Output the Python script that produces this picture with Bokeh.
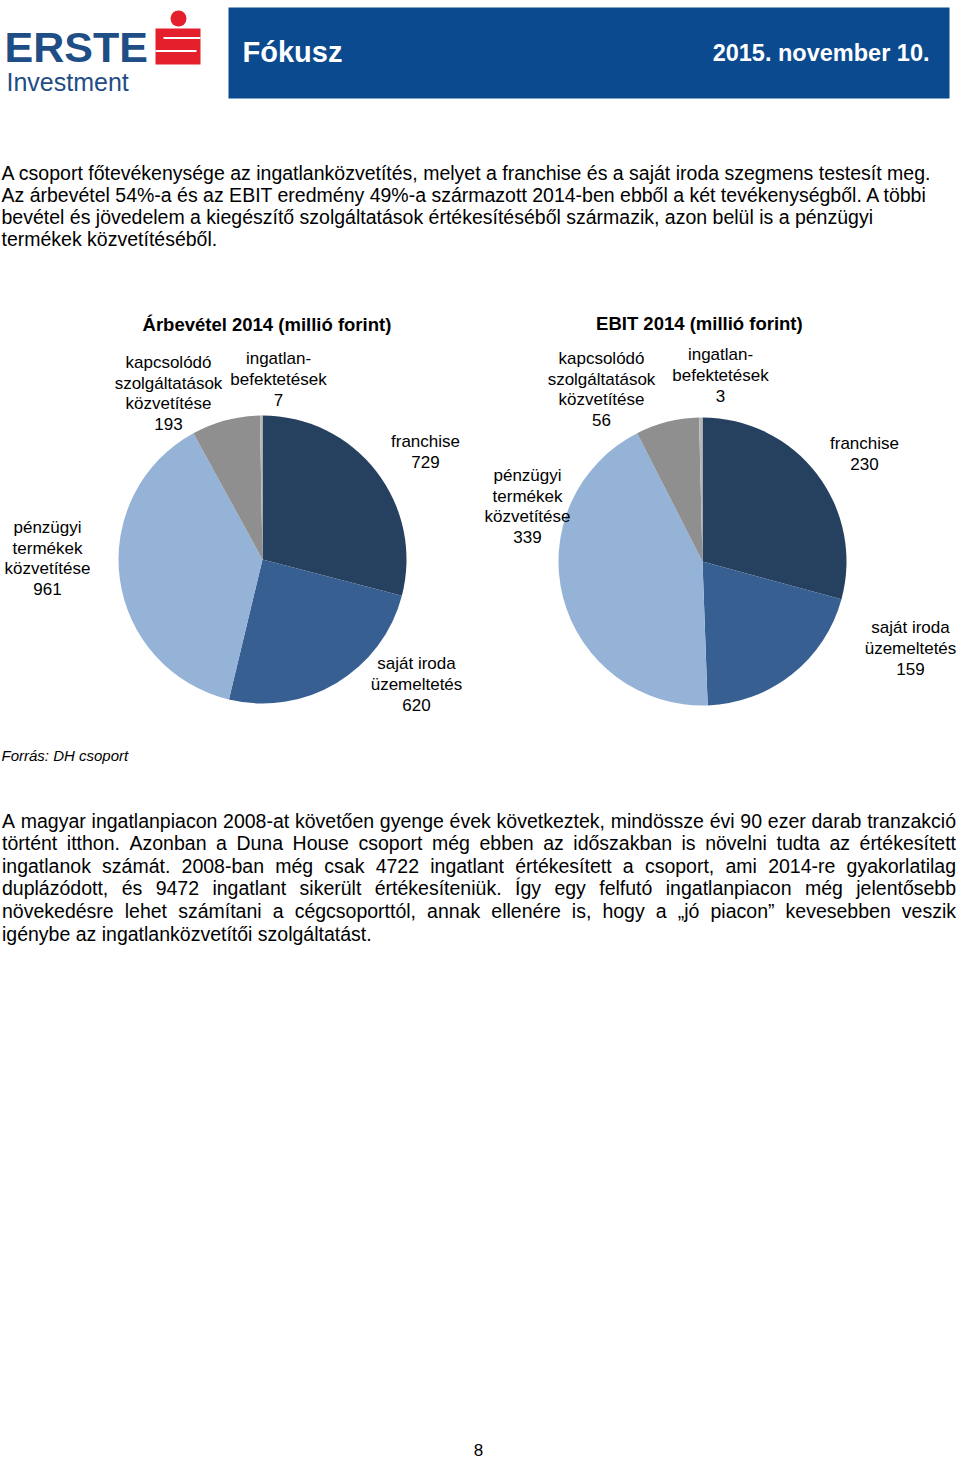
import math
from bokeh.plotting import figure
from bokeh.models import ColumnDataSource, Range1d
from bokeh.core.properties import value
from bokeh.embed import file_html
from bokeh.resources import INLINE

# ---------------- data ----------------
categories = ["franchise", "saját iroda üzemeltetés", "pénzügyi termékek közvetítése",
              "kapcsolódó szolgáltatások közvetítése", "ingatlan-befektetések"]
label_lines = [["franchise"], ["saját iroda", "üzemeltetés"],
               ["pénzügyi", "termékek", "közvetítése"],
               ["kapcsolódó", "szolgáltatások", "közvetítése"],
               ["ingatlan-", "befektetések"]]
revenue_2014 = [729, 620, 961, 193, 7]
ebit_2014 = [230, 159, 339, 56, 3]
chart_titles = ["Árbevétel 2014  (millió forint)", "EBIT  2014  (millió forint)"]

para1 = ["A csoport főtevékenysége az ingatlanközvetítés, melyet a franchise és a saját iroda szegmens testesít meg.",
         "Az árbevétel 54%-a és az EBIT eredmény 49%-a származott 2014-ben ebből a két tevékenységből. A többi",
         "bevétel és jövedelem a kiegészítő szolgáltatások értékesítéséből származik, azon belül is a pénzügyi",
         "termékek közvetítéséből."]
para2 = ["A magyar ingatlanpiacon 2008-at követően gyenge évek következtek, mindössze évi 90 ezer darab tranzakció",
         "történt itthon. Azonban a Duna House csoport még ebben az időszakban is növelni tudta az értékesített",
         "ingatlanok számát. 2008-ban még csak 4722 ingatlant értékesített a csoport, ami 2014-re gyakorlatilag",
         "duplázódott, és 9472 ingatlant sikerült értékesíteniük. Így egy felfutó ingatlanpiacon még jelentősebb",
         "növekedésre lehet számítani a cégcsoporttól, annak ellenére is, hogy a „jó piacon” kevesebben veszik",
         "igénybe az ingatlanközvetítői szolgáltatást."]
source_note = "Forrás: DH csoport"
header_title = "Fókusz"
header_date = "2015. november 10."
page_number = "8"

# ---------------- layout / style ----------------
W, H = 960, 1460
FONT = value("Liberation Sans")
slice_colors = ["#26405f", "#375f91", "#95b3d7", "#8f8f8f", "#b8b8b8"]
pie_layout = [
    dict(cx=262, cy=559, r=144, title_x=269, title_y=324,
         labels=[(425, 441), (416, 663), (47, 527), (168, 362), (278, 358)]),
    dict(cx=702, cy=561, r=144, title_x=704, title_y=323,
         labels=[(864, 443), (910, 627), (527, 475), (601, 358), (720, 354)]),
]
LINE_H = 20.6
BODY_PX = 19.5

# Arial / Liberation Sans advance widths (per 1000 em) for justification
_w = {" ": 278, "i": 222, "j": 222, "l": 222, "f": 278, "t": 278, "r": 333,
      "c": 500, "k": 500, "s": 500, "v": 500, "x": 500, "y": 500, "z": 500,
      "m": 833, "w": 722, "í": 278, "I": 278, "Í": 278, ",": 278, ".": 278,
      "-": 333, "„": 333, "”": 333, "%": 889, "A": 667, "D": 722, "H": 722,
      "E": 667, "B": 667, "T": 611}


def text_width(s, px):
    return sum(_w.get(ch, 556) for ch in s) / 1000.0 * px


def Y(py):
    return H - py


p = figure(width=W, height=H, x_range=Range1d(0, W), y_range=Range1d(0, H),
           toolbar_location=None, output_backend="svg", min_border=0)
p.axis.visible = False
p.grid.visible = False
p.outline_line_color = None
p.background_fill_color = "white"
p.border_fill_color = "white"

# ---------------- header ----------------
p.quad(left=228, right=949, top=Y(7), bottom=Y(98), fill_color="#0b4a8e", line_color=None)
p.text(x=[242], y=[Y(51)], text=[header_title], text_font=FONT, text_font_style="bold",
       text_font_size="29px", text_color="white", text_baseline="middle")
p.text(x=[929], y=[Y(52)], text=[header_date], text_font=FONT, text_font_style="bold",
       text_font_size="23.5px", text_color="white", text_baseline="middle", text_align="right")

# logo
logo_blue = "#1f4d86"
p.text(x=[4], y=[Y(46)], text=["ERSTE"], text_font=FONT,
       text_font_style="bold", text_font_size="43px", text_color=logo_blue, text_baseline="middle")
p.text(x=[6], y=[Y(81)], text=["Investment"], text_font=FONT,
       text_font_size="25px", text_color=logo_blue, text_baseline="middle")
red = "#e3202b"
p.circle(x=[178], y=[Y(18)], radius=8, fill_color=red, line_color=None)
p.quad(left=155, right=200, top=Y(28), bottom=Y(64), fill_color=red, line_color=None)
p.quad(left=163, right=200, top=Y(36.5), bottom=Y(38.5), fill_color="white", line_color=None)
p.quad(left=155, right=196, top=Y(49.5), bottom=Y(51.5), fill_color="white", line_color=None)

# ---------------- paragraphs ----------------
p.text(x=[1] * len(para1), y=[Y(172 + 22 * i) for i in range(len(para1))], text=para1,
       text_font=FONT, text_font_size="19.5px", text_color="black", text_baseline="middle")

# justified second paragraph (all but last line)
jx, jy, jt = [], [], []
LEFT, RIGHT = 1.5, 955.5
for i, line in enumerate(para2):
    ypos = Y(820 + 22.6 * i)
    words = line.split(" ")
    if i == len(para2) - 1 or len(words) < 2:
        jx.append(LEFT); jy.append(ypos); jt.append(line)
        continue
    widths = [text_width(wd, BODY_PX) for wd in words]
    gap = (RIGHT - LEFT - sum(widths)) / (len(words) - 1)
    xcur = LEFT
    for wd, wdw in zip(words, widths):
        jx.append(xcur); jy.append(ypos); jt.append(wd)
        xcur += wdw + gap
p.text(x=jx, y=jy, text=jt, text_font=FONT, text_font_size="19.5px",
       text_color="black", text_baseline="middle")

p.text(x=[1], y=[Y(755)], text=[source_note], text_font=FONT, text_font_style="italic",
       text_font_size="15px", text_color="black", text_baseline="middle")
p.text(x=[478], y=[Y(1449)], text=[page_number], text_font=FONT, text_font_size="17px",
       text_color="black", text_baseline="middle", text_align="center")

# ---------------- pies ----------------
for series, lay, title in zip([revenue_2014, ebit_2014], pie_layout, chart_titles):
    total = float(sum(series))
    starts, ends = [], []
    cum = 0.0
    for v in series:
        starts.append(math.pi / 2 - cum / total * 2 * math.pi)
        cum += v
        ends.append(math.pi / 2 - cum / total * 2 * math.pi)
    src = ColumnDataSource(dict(start=starts, end=ends, color=slice_colors,
                                cat=categories, val=series))
    p.wedge(x=lay["cx"], y=Y(lay["cy"]), radius=lay["r"], start_angle="start",
            end_angle="end", direction="clock", fill_color="color", line_color=None,
            source=src)
    p.text(x=[lay["title_x"]], y=[Y(lay["title_y"])], text=[title], text_font=FONT,
           text_font_style="bold", text_font_size="18.5px", text_color="black",
           text_baseline="middle", text_align="center")
    lx, ly, lt = [], [], []
    for lines, v, (ax, ay) in zip(label_lines, series, lay["labels"]):
        for i, t in enumerate(lines + [str(v)]):
            lx.append(ax)
            ly.append(Y(ay + LINE_H * i))
            lt.append(t)
    p.text(x=lx, y=ly, text=lt, text_font=FONT, text_font_size="17px",
           text_color="black", text_baseline="middle", text_align="center")

open("out.html", "w").write(file_html(p, INLINE))
